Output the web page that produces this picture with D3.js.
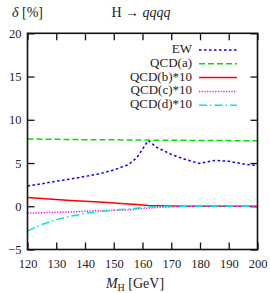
<html>
<head>
<script src="https://d3js.org/d3.v7.min.js"></script>
<style>
body { margin: 0; background: #fff; }
text { font-family: "Liberation Serif", "Times New Roman", serif; fill: #222; }
.tick text { font-size: 12.5px; }
.legend text { font-size: 13px; text-anchor: end; dominant-baseline: middle; }
.frame { fill: none; stroke: #111; stroke-width: 1.6; }
.series { fill: none; stroke-width: 1.5; }
</style>
</head>
<body>
<svg id="chart"></svg>
<script>
// masses in GeV
var masses = [120,125,130,135,140,145,150,155,158,160,162,165,170,175,180,185,190,195,200];
var ew    = [2.35,2.6,2.9,3.15,3.45,3.75,4.2,4.8,5.6,6.6,7.6,6.8,6.0,5.4,4.95,5.3,5.2,4.9,4.7];
var qcdA  = [7.78,7.76,7.74,7.72,7.7,7.69,7.68,7.67,7.66,7.66,7.65,7.64,7.63,7.62,7.61,7.6,7.59,7.58,7.57];
var qcdB  = [1.02,0.9,0.78,0.68,0.58,0.48,0.38,0.27,0.2,0.15,0.1,0.06,0.02,0,0,0,0,0,0];
var qcdC  = [-0.8,-0.75,-0.7,-0.65,-0.58,-0.52,-0.47,-0.42,-0.32,-0.26,-0.22,-0.15,-0.07,-0.03,0,0,0,0,0];
var qcdD  = [-2.85,-2.1,-1.55,-1.15,-0.85,-0.6,-0.45,-0.32,-0.22,-0.15,-0.08,-0.05,-0.02,0,0,0,0,0,0];

var xTicks = [120,130,140,150,160,170,180,190,200];
var yTicks = [-5,0,5,10,15,20];

var series = [
	{ name: "EW",         values: ew,   color: "#0000ff", dash: "2.5,2.5" },
	{ name: "QCD(a)",     values: qcdA, color: "#00e000", dash: "6,3" },
	{ name: "QCD(b)*10",  values: qcdB, color: "#ff0000", dash: null },
	{ name: "QCD(c)*10",  values: qcdC, color: "#ff00ff", dash: "1.2,1.5" },
	{ name: "QCD(d)*10",  values: qcdD, color: "#00e5e5", dash: "8,3,1.5,3" }
];

var W = 270, H = 293;
var m = { left: 27.5, right: 12.5, top: 33.3, bottom: 43.5 };

var svg = d3.select("#chart")
	.attr("width", W)
	.attr("height", H);

var x = d3.scaleLinear().domain([120, 200]).range([m.left, W - m.right]);
var y = d3.scaleLinear().domain([-5, 20]).range([H - m.bottom, m.top]);

var pw = W - m.left - m.right, ph = H - m.top - m.bottom;

// axes with inward ticks on all sides
var tl = 7;
svg.append("g")
	.attr("transform", "translate(0," + (H - m.bottom) + ")")
	.call(d3.axisBottom(x).tickValues(xTicks).tickSize(-tl).tickPadding(10).tickFormat(d3.format("d")));
svg.append("g")
	.attr("transform", "translate(0," + m.top + ")")
	.call(d3.axisTop(x).tickValues(xTicks).tickSize(-tl).tickFormat(""));
svg.append("g")
	.attr("transform", "translate(" + m.left + ",0)")
	.call(d3.axisLeft(y).tickValues(yTicks).tickSize(-tl).tickPadding(6)
		.tickFormat(function(d) { return d < 0 ? "\u2212" + Math.abs(d) : d; }));
svg.append("g")
	.attr("transform", "translate(" + (W - m.right) + ",0)")
	.call(d3.axisRight(y).tickValues(yTicks).tickSize(-tl).tickFormat(""));

svg.selectAll(".domain").remove();
svg.selectAll(".tick line").attr("stroke", "#111").attr("stroke-width", 1.3);
svg.selectAll(".tick text").attr("fill", "#222");

// data lines
var line = d3.line()
	.x(function(d, i) { return x(masses[i]); })
	.y(function(d) { return y(d); });

svg.selectAll(".series")
	.data(series)
	.enter().append("path")
	.attr("class", "series")
	.attr("d", function(d) { return line(d.values); })
	.attr("stroke", function(d) { return d.color; })
	.attr("stroke-dasharray", function(d) { return d.dash; });

svg.append("rect")
	.attr("class", "frame")
	.attr("x", m.left).attr("y", m.top)
	.attr("width", pw).attr("height", ph);

// legend
var lg = svg.append("g").attr("class", "legend");
var row = lg.selectAll("g")
	.data(series)
	.enter().append("g")
	.attr("transform", function(d, i) { return "translate(0," + (50 + i * 13.8) + ")"; });
row.append("text")
	.attr("x", 192)
	.attr("y", 0)
	.text(function(d) { return d.name; });
row.append("line")
	.attr("x1", 199).attr("x2", 237)
	.attr("y1", 0).attr("y2", 0)
	.attr("stroke", function(d) { return d.color; })
	.attr("stroke-width", 1.5)
	.attr("stroke-dasharray", function(d) { return d.dash; });

// titles
var t = svg.append("text")
	.attr("x", 141).attr("y", 17)
	.attr("text-anchor", "middle")
	.style("font-size", "14px");
t.append("tspan").text("H \u2192 ");
t.append("tspan").style("font-style", "italic").text("qqqq");

var yl = svg.append("text")
	.attr("x", 12).attr("y", 17)
	.style("font-size", "14px");
yl.append("tspan").style("font-style", "italic").text("\u03b4");
yl.append("tspan").text(" [%]");

var xl = svg.append("text")
	.attr("x", 135).attr("y", 288)
	.attr("text-anchor", "middle")
	.style("font-size", "14px");
xl.append("tspan").style("font-style", "italic").text("M");
xl.append("tspan").attr("dy", 3).style("font-size", "10px").text("H");
xl.append("tspan").attr("dy", -3).text(" [GeV]");
</script>
</body>
</html>
